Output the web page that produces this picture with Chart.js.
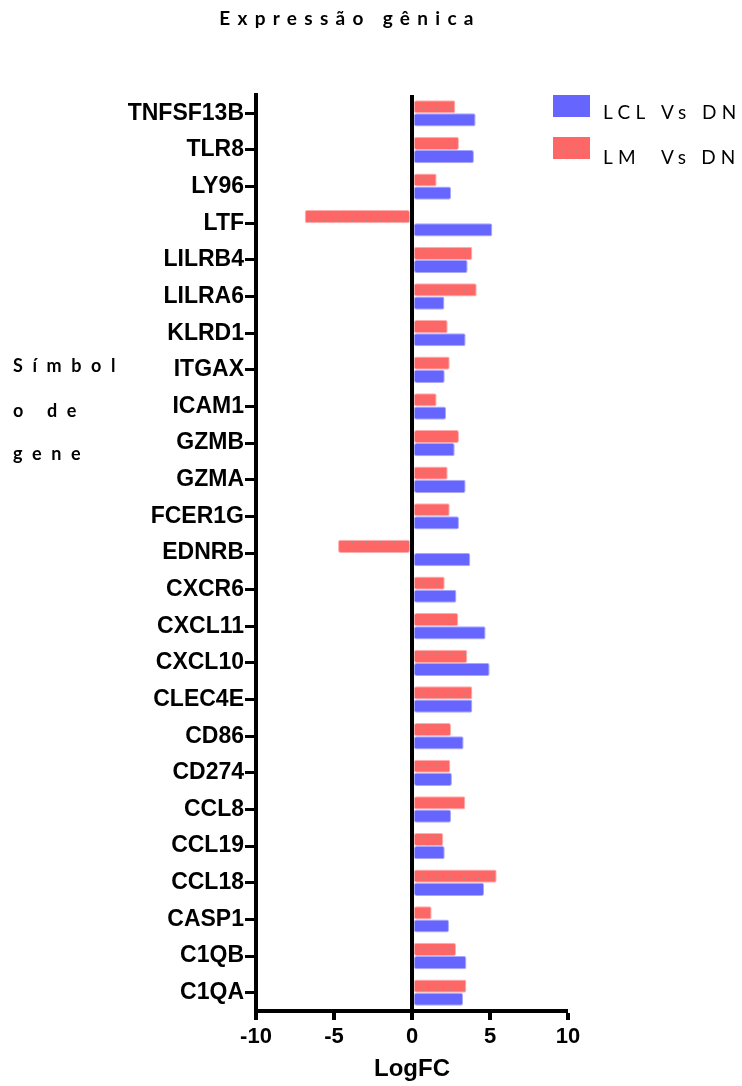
<!DOCTYPE html>
<html>
<head>
<meta charset="utf-8">
<script src="https://cdn.jsdelivr.net/npm/chart.js@4.4.1/dist/chart.umd.min.js"></script>
<style>
html,body{margin:0;padding:0;background:#fff;}
#wrap{width:742px;height:1086px;position:relative;}
</style>
</head>
<body>
<div id="wrap"><canvas id="c" width="742" height="1086"></canvas></div>
<script>
const genes = ['TNFSF13B','TLR8','LY96','LTF','LILRB4','LILRA6','KLRD1','ITGAX','ICAM1','GZMB','GZMA','FCER1G','EDNRB','CXCR6','CXCL11','CXCL10','CLEC4E','CD86','CD274','CCL8','CCL19','CCL18','CASP1','C1QB','C1QA'];
const lmVsDn = [2.78,3.01,1.58,-6.88,3.87,4.15,2.29,2.42,1.58,3.01,2.29,2.42,-4.74,2.10,2.97,3.55,3.87,2.50,2.46,3.42,2.01,5.43,1.26,2.82,3.49];
const lclVsDn = [4.08,3.97,2.50,5.15,3.57,2.08,3.44,2.10,2.18,2.74,3.44,3.01,3.74,2.85,4.72,4.98,3.87,3.31,2.56,2.50,2.10,4.62,2.37,3.49,3.27];
const seriesNames = ['LCL Vs DN','LM  Vs DN'];
const xTicks = [-10,-5,0,5,10];
const chartTitle = 'Expressão gênica';
const yTitleLines = ['Símbol','o de','gene'];
const xTitle = 'LogFC';

const BLUE = '#6666FF';
const RED = '#FF6666';

function makeRedPattern(){
  const c = document.createElement('canvas');
  c.width = 7; c.height = 7;
  const g = c.getContext('2d');
  g.fillStyle = RED; g.fillRect(0,0,7,7);
  g.fillStyle = 'rgba(150,150,150,0.8)';
  g.fillRect(2,3,1.3,1.3);
  return g.createPattern(c,'repeat');
}
const redPattern = makeRedPattern();

function spacedText(ctx, text, x, y, spacing, align){
  ctx.save();
  ctx.letterSpacing = spacing + 'px';
  ctx.textAlign = align || 'left';
  ctx.fillText(text, x, y);
  ctx.restore();
}

const decor = {
  id: 'decor',
  afterDraw(chart){
    const ctx = chart.ctx;
    ctx.save();
    ctx.fillStyle = '#000';
    ctx.textBaseline = 'alphabetic';
    // title
    ctx.font = 'bold 19px Lato';
    spacedText(ctx, chartTitle, 350, 25, 7.3, 'center');
    // y title
    ctx.font = 'bold 18px Lato';
    yTitleLines.forEach((t,i)=>spacedText(ctx, t, 13, [372,417,460][i], 9.6, 'left'));
    // legend
    ctx.font = '19px Lato';
    ctx.fillStyle = BLUE;
    ctx.fillRect(553,95,37,22);
    ctx.fillStyle = redPattern;
    ctx.fillRect(553,137,37,22);
    ctx.fillStyle = '#000';
    spacedText(ctx, seriesNames[0], 603, 119, 5.4, 'left');
    spacedText(ctx, seriesNames[1], 603, 164, 5.2, 'left');
    ctx.restore();
  }
};

new Chart(document.getElementById('c'), {
  type: 'bar',
  data: {
    labels: genes,
    datasets: [
      {label: seriesNames[1], data: lmVsDn, backgroundColor: redPattern, borderColor: 'rgba(255,120,120,0.6)', borderWidth: 1, borderRadius: 2, borderSkipped: false},
      {label: seriesNames[0], data: lclVsDn, backgroundColor: BLUE, borderColor: 'rgba(110,110,255,0.6)', borderWidth: 1, borderRadius: 2, borderSkipped: false}
    ]
  },
  options: {
    indexAxis: 'y',
    responsive: false,
    animation: false,
    devicePixelRatio: 1,
    categoryPercentage: 0.72,
    barPercentage: 1,
    layout: {padding: {top: 95, right: 174, bottom: 0, left: 0}},
    plugins: {legend: {display: false}, title: {display: false}, tooltip: {enabled: false}},
    scales: {
      x: {
        type: 'linear', min: -10, max: 10,
        afterFit: s => { s.height = 75; },
        afterBuildTicks: s => { s.ticks = xTicks.map(v => ({value: v})); },
        border: {display: true, color: '#000', width: 4},
        grid: {
          drawOnChartArea: true, drawTicks: true, tickLength: 9, tickWidth: 4, tickColor: '#000',
          color: c => (c.tick && c.tick.value === 0) ? '#000' : 'rgba(0,0,0,0)',
          lineWidth: c => (c.tick && c.tick.value === 0) ? 4 : 0
        },
        ticks: {color: '#000', font: {family: 'Liberation Sans', weight: 'bold', size: 22}, padding: 4, maxRotation: 0},
        title: {display: true, text: xTitle, color: '#000', font: {family: 'Liberation Sans', weight: 'bold', size: 24}, padding: {top: 0, bottom: 2}}
      },
      y: {
        type: 'category',
        afterFit: s => { s.width = 256; },
        border: {display: true, color: '#000', width: 4},
        grid: {drawOnChartArea: false, drawTicks: true, offset: false, tickLength: 11, tickWidth: 3, tickColor: '#000'},
        ticks: {color: '#000', font: {family: 'Liberation Sans', weight: 'bold', size: 23}, padding: 1, autoSkip: false}
      }
    }
  },
  plugins: [decor]
});
</script>
</body>
</html>
